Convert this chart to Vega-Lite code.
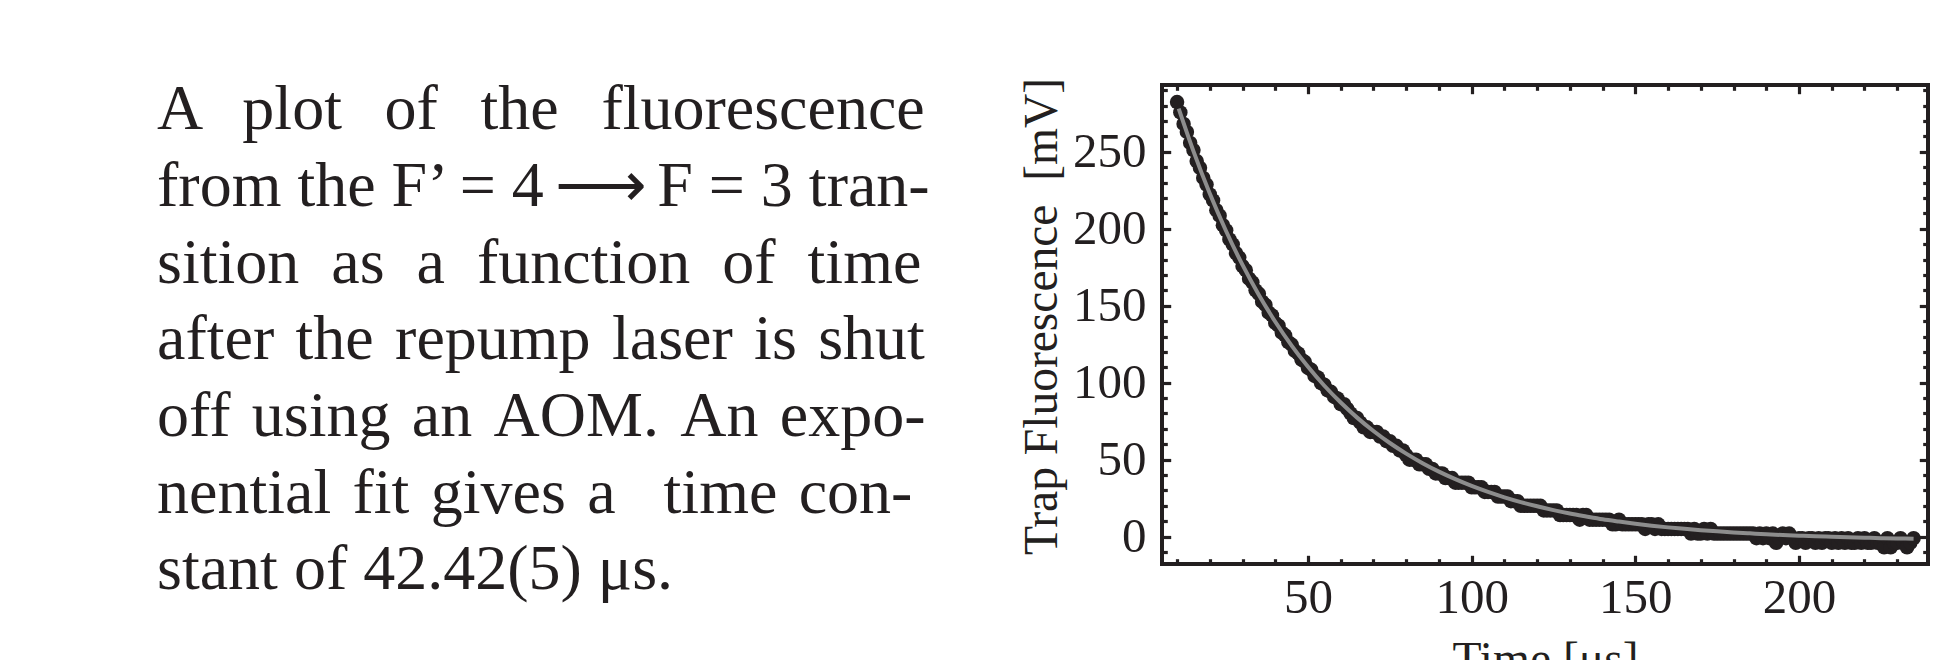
{
  "$schema": "https://vega.github.io/schema/vega-lite/v6.json",
  "background": "white",
  "padding": {"left": 157, "top": 64, "right": 5, "bottom": 0},
  "spacing": 79,
  "config": {
    "font": "Liberation Serif",
    "axis": {
      "labelFont": "Liberation Serif",
      "labelFontSize": 49,
      "labelColor": "#231f20",
      "titleFont": "Liberation Serif",
      "titleFontSize": 47.5,
      "titleFontWeight": "normal",
      "titleColor": "#231f20",
      "tickColor": "#231f20",
      "tickWidth": 3.2,
      "domain": false,
      "grid": false,
      "labelFlush": false,
      "labelOverlap": false
    }
  },
  "datasets": {
    "caption": [
      {"line": 1, "text": "A \u2006\u2005plot \u2006\u2005of \u2006\u2005the \u2006\u2005fluorescence"},
      {"line": 2, "text": "from the F\u2019 = 4\u2006\u27f6\u2006F = 3 tran-"},
      {"line": 3, "text": "sition \u2005as \u2005a \u2005function \u2005of \u2005time"},
      {"line": 4, "text": "after \u200athe \u200arepump \u200alaser \u200ais \u200ashut"},
      {"line": 5, "text": "off \u200ausing \u200aan \u200aAOM. \u200aAn \u200aexpo-"},
      {"line": 6, "text": "nential \u200afit \u200agives \u200aa \u2002time \u200acon-"},
      {"line": 7, "text": "stant of 42.42(5) \u03bcs."}
    ],
    "samples": [
      {"t": 10, "mV": 282.3}, {"t": 11, "mV": 275.6}, {"t": 12, "mV": 268.1}, {"t": 13, "mV": 262.9},
      {"t": 14, "mV": 255.8}, {"t": 15, "mV": 251.1}, {"t": 16, "mV": 244.0}, {"t": 17, "mV": 239.6},
      {"t": 18, "mV": 233.0}, {"t": 19, "mV": 228.7}, {"t": 20, "mV": 222.3}, {"t": 21, "mV": 218.4},
      {"t": 22, "mV": 212.1}, {"t": 23, "mV": 208.5}, {"t": 24, "mV": 202.3}, {"t": 25, "mV": 199.0},
      {"t": 26, "mV": 193.1}, {"t": 27, "mV": 189.9}, {"t": 28, "mV": 184.2}, {"t": 29, "mV": 181.3},
      {"t": 30, "mV": 175.8}, {"t": 31, "mV": 173.1}, {"t": 32, "mV": 167.6}, {"t": 33, "mV": 165.2},
      {"t": 34, "mV": 160.0}, {"t": 35, "mV": 157.7}, {"t": 36, "mV": 152.6}, {"t": 37, "mV": 150.5},
      {"t": 38, "mV": 145.5}, {"t": 39, "mV": 143.7}, {"t": 40, "mV": 138.8}, {"t": 41, "mV": 137.0},
      {"t": 42, "mV": 132.5}, {"t": 43, "mV": 130.8}, {"t": 44, "mV": 126.3}, {"t": 45, "mV": 124.8},
      {"t": 46, "mV": 120.6}, {"t": 47, "mV": 119.0}, {"t": 48, "mV": 115.0}, {"t": 49, "mV": 113.6},
      {"t": 50, "mV": 109.6}, {"t": 51, "mV": 108.4}, {"t": 52, "mV": 104.5}, {"t": 53, "mV": 103.4},
      {"t": 54, "mV": 99.7}, {"t": 55, "mV": 98.6}, {"t": 56, "mV": 95.0}, {"t": 57, "mV": 94.1},
      {"t": 58, "mV": 90.7}, {"t": 59, "mV": 89.8},
      {"t": 60, "mV": 86}, {"t": 61, "mV": 86}, {"t": 62, "mV": 83}, {"t": 63, "mV": 80},
      {"t": 64, "mV": 77}, {"t": 65, "mV": 77}, {"t": 66, "mV": 74}, {"t": 67, "mV": 71},
      {"t": 68, "mV": 71}, {"t": 69, "mV": 68}, {"t": 70, "mV": 68}, {"t": 71, "mV": 68},
      {"t": 72, "mV": 65}, {"t": 73, "mV": 65}, {"t": 74, "mV": 62}, {"t": 75, "mV": 62},
      {"t": 76, "mV": 59}, {"t": 77, "mV": 59}, {"t": 78, "mV": 56}, {"t": 79, "mV": 56},
      {"t": 80, "mV": 53}, {"t": 81, "mV": 50}, {"t": 82, "mV": 50}, {"t": 83, "mV": 50},
      {"t": 84, "mV": 47}, {"t": 85, "mV": 47}, {"t": 86, "mV": 47}, {"t": 87, "mV": 44},
      {"t": 88, "mV": 44}, {"t": 89, "mV": 41}, {"t": 90, "mV": 41}, {"t": 91, "mV": 41},
      {"t": 92, "mV": 38}, {"t": 93, "mV": 38}, {"t": 94, "mV": 38}, {"t": 95, "mV": 35},
      {"t": 96, "mV": 35}, {"t": 97, "mV": 35}, {"t": 98, "mV": 35}, {"t": 99, "mV": 35},
      {"t": 100, "mV": 32}, {"t": 101, "mV": 32}, {"t": 102, "mV": 32}, {"t": 103, "mV": 32},
      {"t": 104, "mV": 29}, {"t": 105, "mV": 29}, {"t": 106, "mV": 29}, {"t": 107, "mV": 29},
      {"t": 108, "mV": 26}, {"t": 109, "mV": 26}, {"t": 110, "mV": 26}, {"t": 111, "mV": 26},
      {"t": 112, "mV": 23}, {"t": 113, "mV": 23}, {"t": 114, "mV": 23}, {"t": 115, "mV": 20},
      {"t": 116, "mV": 20}, {"t": 117, "mV": 20}, {"t": 118, "mV": 20}, {"t": 119, "mV": 20},
      {"t": 120, "mV": 20}, {"t": 121, "mV": 20}, {"t": 122, "mV": 17}, {"t": 123, "mV": 17},
      {"t": 124, "mV": 17}, {"t": 125, "mV": 17}, {"t": 126, "mV": 17}, {"t": 127, "mV": 14},
      {"t": 128, "mV": 14}, {"t": 129, "mV": 14}, {"t": 130, "mV": 14}, {"t": 131, "mV": 14},
      {"t": 132, "mV": 14}, {"t": 133, "mV": 11}, {"t": 134, "mV": 14}, {"t": 135, "mV": 14},
      {"t": 136, "mV": 11}, {"t": 137, "mV": 11}, {"t": 138, "mV": 11}, {"t": 139, "mV": 11},
      {"t": 140, "mV": 11}, {"t": 141, "mV": 11}, {"t": 142, "mV": 11}, {"t": 143, "mV": 8},
      {"t": 144, "mV": 8}, {"t": 145, "mV": 11}, {"t": 146, "mV": 8}, {"t": 147, "mV": 8},
      {"t": 148, "mV": 8}, {"t": 149, "mV": 8}, {"t": 150, "mV": 8}, {"t": 151, "mV": 8},
      {"t": 152, "mV": 8}, {"t": 153, "mV": 5}, {"t": 154, "mV": 8}, {"t": 155, "mV": 8},
      {"t": 156, "mV": 5}, {"t": 157, "mV": 8}, {"t": 158, "mV": 5}, {"t": 159, "mV": 5},
      {"t": 160, "mV": 5}, {"t": 161, "mV": 5}, {"t": 162, "mV": 5}, {"t": 163, "mV": 5},
      {"t": 164, "mV": 5}, {"t": 165, "mV": 5}, {"t": 166, "mV": 5}, {"t": 167, "mV": 2},
      {"t": 168, "mV": 5}, {"t": 169, "mV": 2}, {"t": 170, "mV": 2}, {"t": 171, "mV": 5},
      {"t": 172, "mV": 2}, {"t": 173, "mV": 5}, {"t": 174, "mV": 2}, {"t": 175, "mV": 2},
      {"t": 176, "mV": 2}, {"t": 177, "mV": 2}, {"t": 178, "mV": 2}, {"t": 179, "mV": 2},
      {"t": 180, "mV": 2}, {"t": 181, "mV": 2}, {"t": 182, "mV": 2}, {"t": 183, "mV": 2},
      {"t": 184, "mV": 2}, {"t": 185, "mV": 2}, {"t": 186, "mV": 2}, {"t": 187, "mV": -1},
      {"t": 188, "mV": 2}, {"t": 189, "mV": -1}, {"t": 190, "mV": 2}, {"t": 191, "mV": -1},
      {"t": 192, "mV": 2}, {"t": 193, "mV": -4}, {"t": 194, "mV": -1}, {"t": 195, "mV": 2},
      {"t": 196, "mV": -1}, {"t": 197, "mV": 2}, {"t": 198, "mV": -1}, {"t": 199, "mV": -4},
      {"t": 200, "mV": -1}, {"t": 201, "mV": -1}, {"t": 202, "mV": -4}, {"t": 203, "mV": -1},
      {"t": 204, "mV": -1}, {"t": 205, "mV": -4}, {"t": 206, "mV": -1}, {"t": 207, "mV": -4},
      {"t": 208, "mV": -1}, {"t": 209, "mV": -1}, {"t": 210, "mV": -4}, {"t": 211, "mV": -1},
      {"t": 212, "mV": -4}, {"t": 213, "mV": -1}, {"t": 214, "mV": -4}, {"t": 215, "mV": -1},
      {"t": 216, "mV": -4}, {"t": 217, "mV": -4}, {"t": 218, "mV": -1}, {"t": 219, "mV": -4},
      {"t": 220, "mV": -1}, {"t": 221, "mV": -4}, {"t": 222, "mV": -4}, {"t": 223, "mV": -1},
      {"t": 224, "mV": -4}, {"t": 225, "mV": -4}, {"t": 226, "mV": -7}, {"t": 227, "mV": -1},
      {"t": 228, "mV": -7}, {"t": 229, "mV": -4}, {"t": 230, "mV": -4}, {"t": 231, "mV": -1},
      {"t": 232, "mV": -4}, {"t": 233, "mV": -7}, {"t": 234, "mV": -4}, {"t": 235, "mV": -1}
    ],
    "fit": [
      {"t": 10.5, "mV": 278.0}, {"t": 15, "mV": 250.4}, {"t": 20, "mV": 222.9}, {"t": 25, "mV": 198.4},
      {"t": 30, "mV": 176.5}, {"t": 35, "mV": 157.0}, {"t": 40, "mV": 139.6}, {"t": 45, "mV": 124.1},
      {"t": 50, "mV": 110.3}, {"t": 55, "mV": 98.0}, {"t": 60, "mV": 87.1}, {"t": 65, "mV": 77.3},
      {"t": 70, "mV": 68.6}, {"t": 75, "mV": 60.8}, {"t": 80, "mV": 53.9}, {"t": 85, "mV": 47.7},
      {"t": 90, "mV": 42.2}, {"t": 95, "mV": 37.3}, {"t": 100, "mV": 32.9}, {"t": 105, "mV": 29.0},
      {"t": 110, "mV": 25.5}, {"t": 115, "mV": 22.4}, {"t": 120, "mV": 19.7}, {"t": 125, "mV": 17.2},
      {"t": 130, "mV": 15.0}, {"t": 135, "mV": 13.1}, {"t": 140, "mV": 11.3}, {"t": 145, "mV": 9.8},
      {"t": 150, "mV": 8.4}, {"t": 155, "mV": 7.1}, {"t": 160, "mV": 6.0}, {"t": 165, "mV": 5.1},
      {"t": 170, "mV": 4.2}, {"t": 175, "mV": 3.4}, {"t": 180, "mV": 2.7}, {"t": 185, "mV": 2.1},
      {"t": 190, "mV": 1.5}, {"t": 195, "mV": 1.0}, {"t": 200, "mV": 0.6}, {"t": 205, "mV": 0.2},
      {"t": 210, "mV": -0.1}, {"t": 215, "mV": -0.4}, {"t": 220, "mV": -0.7}, {"t": 225, "mV": -1.0},
      {"t": 230, "mV": -1.2}, {"t": 235, "mV": -1.4}
    ]
  },
  "hconcat": [
    {
      "width": 780,
      "height": 479,
      "view": {"stroke": null},
      "data": {"name": "caption"},
      "mark": {"type": "text", "align": "left", "baseline": "alphabetic", "font": "Liberation Serif", "fontSize": 64, "color": "#231f20"},
      "encoding": {
        "x": {"datum": 0, "type": "quantitative", "scale": {"domain": [0, 1]}, "axis": null},
        "y": {"field": "line", "type": "quantitative", "scale": {"domain": [0.42, 6.67], "reverse": true, "nice": false, "zero": false}, "axis": null},
        "text": {"field": "text"}
      }
    },
    {
      "width": 766,
      "height": 479,
      "view": {"stroke": "#231f20", "strokeWidth": 4},
      "layer": [
        {
          "data": {"name": "samples"},
          "mark": {"type": "circle", "size": 210, "color": "#231f20", "opacity": 1},
          "encoding": {
            "x": {
              "field": "t", "type": "quantitative",
              "scale": {"domain": [5.4, 239.4], "nice": false, "zero": false},
              "axis": {
                "orient": "bottom", "title": "Time [\u03bcs]",
                "values": [10, 20, 30, 40, 50, 60, 70, 80, 90, 100, 110, 120, 130, 140, 150, 160, 170, 180, 190, 200, 210, 220, 230],
                "tickSize": {"condition": {"test": "datum.value % 50 === 0", "value": -8.7}, "value": -5.3},
                "labelExpr": "datum.value % 50 === 0 ? datum.label : ''",
                "labelPadding": 18.5,
                "titlePadding": 10
              }
            },
            "y": {
              "field": "mV", "type": "quantitative",
              "scale": {"domain": [-17.8, 293.4], "nice": false, "zero": false},
              "axis": {
                "orient": "left", "title": "Trap Fluorescence\u00a0 [mV]",
                "values": [-10, 0, 10, 20, 30, 40, 50, 60, 70, 80, 90, 100, 110, 120, 130, 140, 150, 160, 170, 180, 190, 200, 210, 220, 230, 240, 250, 260, 270, 280, 290],
                "tickSize": {"condition": {"test": "datum.value % 50 === 0", "value": -8.7}, "value": -5.3},
                "labelExpr": "datum.value % 50 === 0 ? datum.label : ''",
                "labelPadding": 24.7,
                "titlePadding": 16,
                "titleBaseline": "alphabetic",
                "titleY": 231
              }
            }
          }
        },
        {
          "data": {"name": "fit"},
          "mark": {"type": "line", "color": "#8d8d8d", "strokeWidth": 4, "interpolate": "monotone"},
          "encoding": {
            "x": {
              "field": "t", "type": "quantitative",
              "axis": {
                "orient": "top", "title": null, "labels": false,
                "values": [10, 20, 30, 40, 50, 60, 70, 80, 90, 100, 110, 120, 130, 140, 150, 160, 170, 180, 190, 200, 210, 220, 230],
                "tickSize": {"condition": {"test": "datum.value % 50 === 0", "value": -8.7}, "value": -5.3}
              }
            },
            "y": {
              "field": "mV", "type": "quantitative",
              "axis": {
                "orient": "right", "title": null, "labels": false,
                "values": [-10, 0, 10, 20, 30, 40, 50, 60, 70, 80, 90, 100, 110, 120, 130, 140, 150, 160, 170, 180, 190, 200, 210, 220, 230, 240, 250, 260, 270, 280, 290],
                "tickSize": {"condition": {"test": "datum.value % 50 === 0", "value": -8.7}, "value": -5.3}
              }
            }
          }
        }
      ],
      "resolve": {"axis": {"x": "independent", "y": "independent"}}
    }
  ]
}
